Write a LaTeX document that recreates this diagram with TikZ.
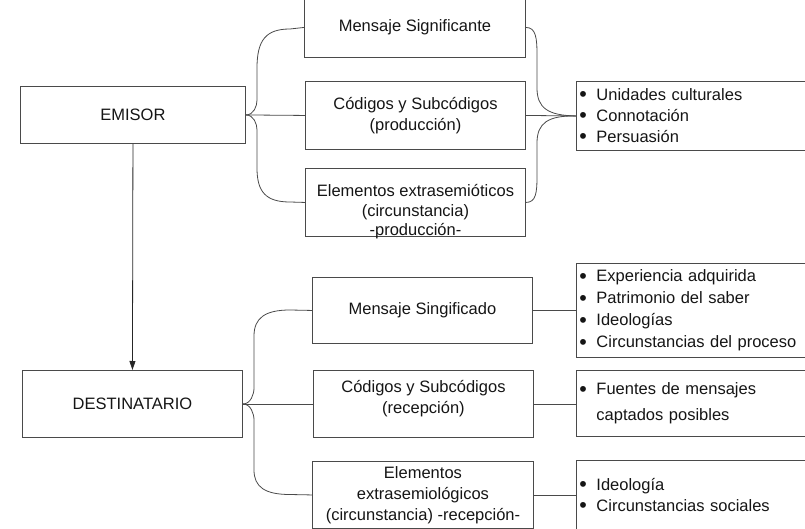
\documentclass[tikz,border=0pt]{standalone}
\usepackage{fontspec}
\setmainfont{Liberation Sans}
\usetikzlibrary{arrows.meta}
\definecolor{linec}{HTML}{4A4A4A}
\definecolor{txtc}{HTML}{151515}
\newcommand\fs{\fontsize{16.5}{20.5}\selectfont}
\newcommand\itm{\makebox[18.5pt][l]{\hspace{1.3pt}\raisebox{-1.4pt}{\scalebox{1.3}{•}}}}
\begin{document}
\begin{tikzpicture}[x=1pt,y=-1pt,
  box/.style={draw=linec, line width=0.9pt, rectangle, inner sep=0pt, anchor=north west, align=center, font=\fs, text=txtc},
  lst/.style={draw=linec, line width=0.9pt, rectangle, anchor=north west, align=left, inner xsep=1.5pt, inner ysep=0pt, text width=230pt, font=\fontsize{16.5}{21}\selectfont, text=txtc},
  txt/.style={align=center, font=\fs, text=txtc, inner sep=0pt},
  conn/.style={draw=linec, line width=0.8pt}]
\clip (0,0) rectangle (805,529);
% upper part
\node[box, minimum width=225pt, minimum height=57pt] (emisor) at (20,86) {EMISOR};
\node[box, minimum width=221pt, minimum height=60pt] (msig) at (304,-3) {Mensaje Significante};
\node[box, minimum width=220pt, minimum height=68pt] (cod1) at (305,81) {Códigos y Subcódigos\\(producción)};
\node[box, minimum width=220pt, minimum height=68pt] (ele1) at (305,168) {};
\node[txt, yshift=-9.5pt, font=\fontsize{16.5}{19.5}\selectfont] (ele1t) at (ele1.center) {Elementos extrasemióticos\\(circunstancia)\\-producción-};
\node[lst, minimum height=69pt] (lst1) at (576,81) {\itm Unidades culturales\\\itm Connotación\\\itm Persuasión};
% lower part
\node[box, minimum width=220pt, minimum height=67pt] (dest) at (22,370) {DESTINATARIO};
\node[box, minimum width=220pt, minimum height=66pt] (msing) at (312,277) {Mensaje Singificado};
\node[box, minimum width=220pt, minimum height=67pt] (cod2) at (313,370) {};
\node[txt, yshift=5.5pt] (cod2t) at (cod2.center) {Códigos y Subcódigos\\(recepción)};
\node[box, minimum width=221pt, minimum height=67pt, font=\fontsize{16.5}{21}\selectfont] (ele2) at (312,461) {Elementos\\extrasemiológicos\\(circunstancia) -recepción-};
\node[lst, minimum height=94pt, font=\fontsize{16.5}{22}\selectfont] (lstA) at (576,263) {\itm Experiencia adquirida\\\itm Patrimonio del saber\\\itm Ideologías\\\itm Circunstancias del proceso};
\node[lst, minimum height=66pt, font=\fontsize{16.5}{26}\selectfont] (lstB) at (576,370) {\itm Fuentes de mensajes\\\makebox[18.5pt][l]{}captados posibles};
\node[lst, minimum height=70pt] (lstC) at (576,460) {\itm Ideología\\\itm Circunstancias sociales};
% arrow
\draw[conn, draw=black!85, -{Triangle[length=9pt,width=6pt]}] (emisor.south) -- (dest.north);
% upper braces (left)
\draw[conn] (emisor.east) .. controls +(8,0) and +(0,6) .. (257,100) -- (257,68) .. controls (257,40) and (266,29) .. (290,29) -- (msig.west);
\draw[conn] (emisor.east) -- (cod1.west);
\draw[conn] (emisor.east) .. controls +(8,0) and +(0,-6) .. (257,130) -- (257,168) .. controls (257,192) and (266,202) .. (290,202) -- (ele1.west);
% upper braces (right)
\draw[conn] (msig.east) .. controls +(10,0) and (537,38) .. (537,55) -- (537,88) .. controls (537,108) and (548,115.5) .. (lst1.west);
\draw[conn] (cod1.east) -- (lst1.west);
\draw[conn] (ele1.east) .. controls +(10,0) and (537,193) .. (537,176) -- (537,143) .. controls (537,123) and (548,115.5) .. (lst1.west);
% lower braces (left)
\draw[conn] (dest.east) .. controls +(8,0) and +(0,6) .. (254,388) -- (254,336) .. controls (254,318) and (265,310) .. (290,310) -- (msing.west);
\draw[conn] (dest.east) -- (cod2.west);
\draw[conn] (dest.east) .. controls +(8,0) and +(0,-6) .. (254,420) -- (254,470) .. controls (254,487) and (265,494.5) .. (290,494.5) -- (ele2.west);
% lower straight links
\draw[conn] (msing.east) -- (lstA.west);
\draw[conn] (cod2.east) -- (lstB.west |- cod2.east);
\draw[conn] (ele2.east) -- (lstC.west |- ele2.east);
\end{tikzpicture}
\end{document}
